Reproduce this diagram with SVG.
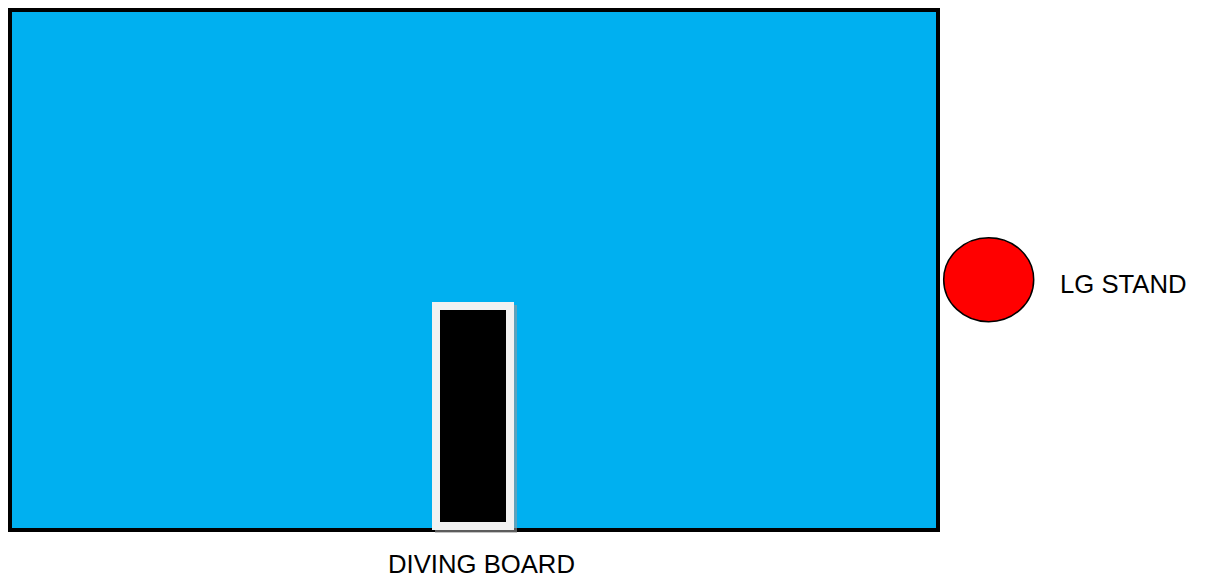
<svg xmlns="http://www.w3.org/2000/svg" width="1205" height="575" viewBox="0 0 1205 575">
<style>
.lbl{font-family:"Liberation Sans",Arial,sans-serif;font-size:25.7px;fill:#000}
</style>
<rect x="0" y="0" width="1205" height="575" fill="#fff"/>
<g id="pool">
<rect x="10" y="10" width="928" height="520" fill="#00b0f0" stroke="#000" stroke-width="4"/>
</g>
<g id="diving-board">
<rect x="435" y="305" width="82" height="228" fill="#9a9a9a" opacity="0.6"/>
<rect x="432" y="302" width="82" height="228" fill="#f2f2f2"/>
<rect x="440" y="310" width="66" height="212" fill="#000"/>
<text class="lbl" x="388" y="572.5">DIVING BOARD</text>
</g>
<g id="lg-stand">
<ellipse cx="988.7" cy="279.7" rx="45" ry="42" fill="#f00" stroke="#000" stroke-width="1.5"/>
<text class="lbl" x="1060" y="293">LG STAND</text>
</g>
<g id="connectors"/>
</svg>
